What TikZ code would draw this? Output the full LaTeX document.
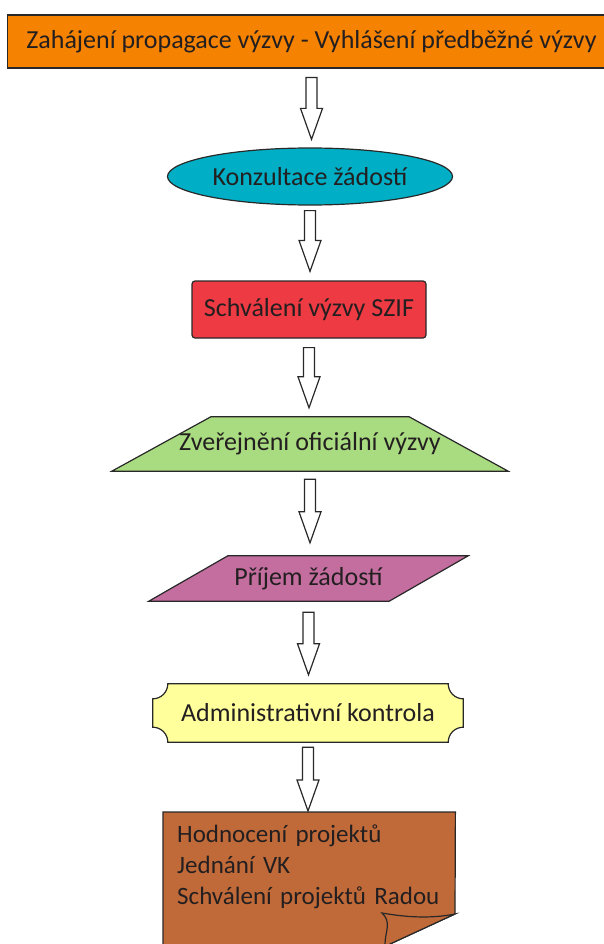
\documentclass[tikz,border=0pt]{standalone}
\usepackage{fontspec}
\setmainfont{Carlito}
\usepackage{tikz}
\usepackage{xcolor}
\usetikzlibrary{shapes.geometric,backgrounds,calc}
\definecolor{textgray}{RGB}{35,31,32}
\definecolor{linegray}{RGB}{40,40,40}
\definecolor{orangefill}{RGB}{245,130,0}
\definecolor{tealfill}{RGB}{0,175,197}
\definecolor{redfill}{RGB}{238,58,67}
\definecolor{greenfill}{RGB}{169,219,128}
\definecolor{pinkfill}{RGB}{196,110,160}
\definecolor{yellowfill}{RGB}{255,255,155}
\definecolor{brownfill}{RGB}{193,106,57}

\begin{document}
\begin{tikzpicture}[x=1pt, y=-1pt,
  every node/.style={font=\fontsize{26}{31}\selectfont, text=textgray},
  box/.style={draw=linegray, line width=1.2pt},
  blockarrow/.style={draw=linegray, line width=1.2pt, fill=white,
    to path={let \p1=(\tikztostart), \p2=(\tikztotarget) in
      (\x1-5.5pt,\y1) -- (\x1+5.5pt,\y1) -- (\x1+5.5pt,\y2+31pt) -- (\x1+11pt,\y2+31pt)
      -- (\x1,\y2) -- (\x1-11pt,\y2+31pt) -- (\x1-5.5pt,\y2+31pt) -- cycle}}]
  \useasboundingbox (0,0) rectangle (604,944);

  \node (start) [box, fill=orangefill, minimum width=608pt, minimum height=53pt] at (311.5,41.5) {Zahájení propagace výzvy - Vyhlášení předběžné výzvy};
  \node (kons) [box, ellipse, fill=tealfill, minimum width=252pt, minimum height=57pt] at (310,176.5) {Konzultace žádostí};
  \node (szif) [box, rounded corners=3pt, fill=redfill, minimum width=234pt, minimum height=57pt] at (309,309.5) {Schválení výzvy SZIF};
  \node (zver) [minimum width=396pt, minimum height=54pt] at (310,444) {Zveřejnění oficiální výzvy};
  \node (prij) [minimum width=319pt, minimum height=45pt] at (308.5,578.5) {Příjem žádostí};
  \node (admin) [minimum width=310pt, minimum height=58pt] at (308,713) {Administrativní kontrola};
  \node (doc) [anchor=north west, text width=264pt, inner xsep=14pt, inner ysep=13pt, align=left, font=\fontsize{25}{31}\selectfont] at (163,812) {Hodnocení projektů\\Jednání VK\\\mbox{Schválení projektů Radou}};

  \begin{scope}[on background layer]
    \draw[box, fill=greenfill] (zver.south west) -- (zver.south east) -- ([xshift=-99pt]zver.north east) -- ([xshift=99pt]zver.north west) -- cycle;
    \draw[box, fill=pinkfill] (prij.south west) -- ([xshift=-79pt]prij.south east) -- (prij.north east) -- ([xshift=79pt]prij.north west) -- cycle;
    \draw[box, fill=yellowfill] ([xshift=15pt]admin.north west) -- ([xshift=-15pt]admin.north east) arc[start angle=180, end angle=270, radius=15pt]
      -- ([yshift=15pt]admin.south east) arc[start angle=90, end angle=180, radius=15pt]
      -- ([xshift=15pt]admin.south west) arc[start angle=0, end angle=90, radius=15pt]
      -- ([yshift=-15pt]admin.north west) arc[start angle=270, end angle=360, radius=15pt] -- cycle;
    \fill[brownfill] (doc.north west) -- (doc.north east) -- (455,914) -- (390,944) -- (390,950) -- (163,950) -- cycle;
    \draw[box] (163,950) -- (doc.north west) -- (doc.north east) -- (455,914) -- (390,944) -- (390,950);
    \draw[box, fill=brownfill] (455,914) .. controls (430,919) and (405,917) .. (382,913) .. controls (392,922) and (385,932) .. (385,944) -- (385,950) -- (390,950) -- (390,944) -- cycle;
  \end{scope}

  \draw[blockarrow] ([yshift=-9pt]start.south) to ([yshift=8pt]kons.north);
  \draw[blockarrow] ([yshift=-5pt]kons.south) to ([yshift=9pt]szif.north);
  \draw[blockarrow] ([yshift=-9pt]szif.south) to ([yshift=9pt]zver.north);
  \draw[blockarrow] ([yshift=-8pt]zver.south) to ([yshift=13pt]prij.north);
  \draw[blockarrow] ([yshift=-11pt]prij.south) to ([yshift=9pt]admin.north);
  \draw[blockarrow] ([yshift=-5pt]admin.south) to ([yshift=1pt]doc.north);
\end{tikzpicture}
\end{document}
